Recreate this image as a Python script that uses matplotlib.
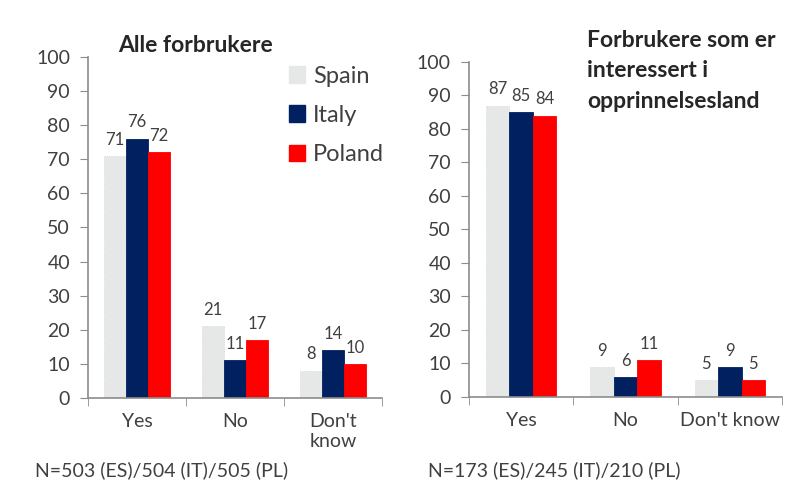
import numpy as np
import matplotlib
matplotlib.use("Agg")
import matplotlib.pyplot as plt
from matplotlib.patches import Patch

plt.rcParams['font.family'] = ['Lato', 'DejaVu Sans']

# Data
countries = ['Spain', 'Italy', 'Poland']
colors = ['#E6E8E8', '#002060', '#FF0000']

left_cats = ['Yes', 'No', "Don't\nknow"]
left_vals = {'Spain': [71, 21, 8], 'Italy': [76, 11, 14], 'Poland': [72, 17, 10]}
left_title = 'Alle forbrukere'
left_note = 'N=503 (ES)/504 (IT)/505 (PL)'

right_cats = ['Yes', 'No', "Don't know"]
right_vals = {'Spain': [87, 9, 5], 'Italy': [85, 6, 9], 'Poland': [84, 11, 5]}
right_title = 'Forbrukere som er\ninteressert i\nopprinnelsesland'
right_note = 'N=173 (ES)/245 (IT)/210 (PL)'

yticks = list(range(0, 101, 10))

fig = plt.figure(figsize=(8.01, 4.90), dpi=100)
ax1 = fig.add_axes([0.1099, 0.1878, 0.3670, 0.6959])
ax2 = fig.add_axes([0.5855, 0.1898, 0.3908, 0.6837])

width = 0.225
axis_col = '#8C8C8C'
text_col = '#404040'


def draw_panel(ax, cats, vals):
    x = np.arange(len(cats))
    for i, c in enumerate(countries):
        bars = ax.bar(x + (i - 1) * width, vals[c], width, color=colors[i],
                      edgecolor='#D0D0D0' if c == 'Spain' else colors[i],
                      linewidth=0.6, linestyle=':' if c == 'Spain' else '-')
        ax.bar_label(bars, padding=6, fontsize=12, color=text_col)
    ax.set_ylim(0, 100)
    ax.set_xlim(-0.5, len(cats) - 0.5)
    ax.set_yticks(yticks)
    ax.set_xticks(x)
    ax.set_xticklabels(cats, fontsize=14, color=text_col, linespacing=1.2)
    ax.set_xticks(np.arange(len(cats) + 1) - 0.5, minor=True)
    ax.tick_params(axis='x', which='major', length=0, pad=11)
    ax.tick_params(axis='x', which='minor', length=6, color=axis_col)
    ax.tick_params(axis='y', length=6, color=axis_col, labelsize=14,
                   labelcolor=text_col, pad=7)
    for s in ['top', 'right']:
        ax.spines[s].set_visible(False)
    for s in ['left', 'bottom']:
        ax.spines[s].set_color(axis_col)
        ax.spines[s].set_linewidth(1.2)


draw_panel(ax1, left_cats, left_vals)
draw_panel(ax2, right_cats, right_vals)

fig.text(195 / 801, 1 - 45 / 490, left_title, fontsize=16.5, fontweight='bold',
         color='#262626', ha='center', va='center')
fig.text(587 / 801, 1 - 30 / 490, right_title, fontsize=16.5, fontweight='bold',
         color='#262626', ha='left', va='top', linespacing=1.55)

handles = [Patch(facecolor=colors[i], edgecolor=colors[i]) for i in range(3)]
fig.legend(handles, countries, loc='upper left', bbox_to_anchor=(272 / 801, 1 - 49 / 490),
           frameon=False, fontsize=17, handlelength=0.7, handleheight=0.7,
           handletextpad=0.35, labelspacing=0.78, labelcolor=text_col,
           borderpad=0.2)

fig.text(35 / 801, 1 - 470 / 490, left_note, fontsize=14, color=text_col, va='center')
fig.text(428 / 801, 1 - 470 / 490, right_note, fontsize=14, color=text_col, va='center')

fig.savefig('out.png', dpi=100, facecolor='white')
